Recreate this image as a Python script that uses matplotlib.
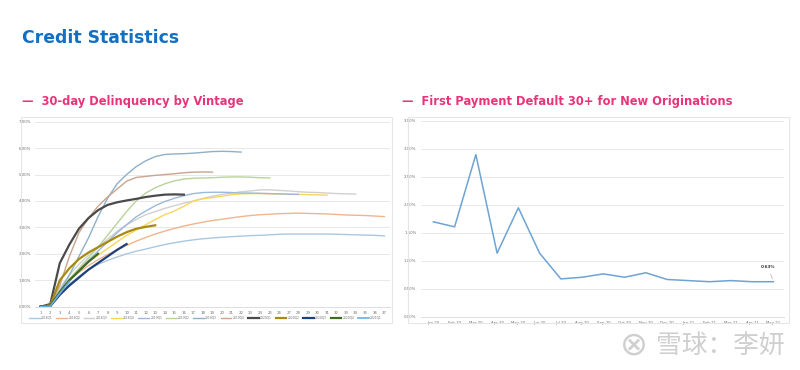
import numpy as np
import matplotlib
matplotlib.use("Agg")
import matplotlib.pyplot as plt
from matplotlib.patches import Rectangle
from matplotlib.ticker import FuncFormatter

# --- data: 30-day delinquency by vintage (month on book -> cumulative %)
vintages = ["2018Q1", "2018Q2", "2018Q3", "2018Q4", "2019Q1", "2019Q2", "2019Q3",
            "2019Q4", "2020Q1", "2020Q2", "2020Q3", "2020Q4", "2021Q1"]
vintage_colors = ["#a9c8e0", "#f2b48c", "#d0d0d0", "#f7d75a", "#9db8dc", "#b9d39a",
                  "#8fb0c8", "#c9a48e", "#4a4a4a", "#a88a12", "#1f3f7a", "#3f6a1f", "#6aaee0"]
vintage_widths = [1, 1, 1, 1, 1, 1, 1, 1, 1.6, 1.6, 1.6, 1.6, 1.2]

v_2018q1 = [0, 0.05, 0.45, 0.85, 1.15, 1.4, 1.6, 1.75, 1.88, 2.0, 2.1, 2.18, 2.27, 2.35,
            2.42, 2.48, 2.53, 2.57, 2.6, 2.63, 2.65, 2.67, 2.69, 2.7, 2.72, 2.74, 2.75,
            2.75, 2.75, 2.75, 2.75, 2.74, 2.73, 2.72, 2.71, 2.7, 2.68]
v_2018q2 = [0, 0.05, 0.6, 1.0, 1.3, 1.55, 1.78, 1.97, 2.15, 2.32, 2.48, 2.62, 2.75, 2.86,
            2.96, 3.05, 3.13, 3.2, 3.26, 3.31, 3.36, 3.41, 3.45, 3.48, 3.5, 3.52, 3.53,
            3.54, 3.53, 3.52, 3.51, 3.49, 3.47, 3.46, 3.45, 3.43, 3.41]
v_2018q3 = [0, 0.05, 0.7, 1.2, 1.6, 1.95, 2.25, 2.55, 2.85, 3.1, 3.3, 3.48, 3.6, 3.72,
            3.82, 3.92, 4.0, 4.1, 4.18, 4.25, 4.3, 4.35, 4.38, 4.42, 4.42, 4.4, 4.38,
            4.35, 4.33, 4.32, 4.3, 4.28, 4.27, 4.26]
v_2018q4 = [0, 0.05, 0.6, 1.05, 1.4, 1.7, 1.95, 2.2, 2.45, 2.7, 2.9, 3.1, 3.3, 3.48,
            3.62, 3.8, 4.0, 4.08, 4.13, 4.18, 4.24, 4.27, 4.28, 4.28, 4.27, 4.26, 4.25,
            4.25, 4.24, 4.23, 4.22]
v_2019q1 = [0, 0.05, 0.55, 1.0, 1.4, 1.75, 2.1, 2.45, 2.8, 3.1, 3.4, 3.62, 3.82, 3.98,
            4.1, 4.2, 4.28, 4.32, 4.33, 4.33, 4.32, 4.3, 4.3, 4.29, 4.28, 4.27, 4.26, 4.25]
v_2019q2 = [0, 0.05, 0.6, 1.05, 1.45, 1.85, 2.25, 2.7, 3.15, 3.6, 4.0, 4.3, 4.5, 4.65,
            4.76, 4.83, 4.86, 4.87, 4.88, 4.9, 4.91, 4.91, 4.9, 4.88, 4.87]
v_2019q3 = [0, 0.05, 0.6, 1.2, 1.9, 2.6, 3.4, 4.1, 4.65, 5.0, 5.3, 5.52, 5.68, 5.76,
            5.78, 5.79, 5.81, 5.84, 5.87, 5.88, 5.87, 5.85]
v_2019q4 = [0, 0.08, 0.8, 1.9, 2.8, 3.35, 3.8, 4.15, 4.45, 4.75, 4.89, 4.93, 4.97, 5.0,
            5.03, 5.07, 5.09, 5.1, 5.09]
v_2020q1 = [0, 0.1, 1.65, 2.35, 2.95, 3.35, 3.65, 3.85, 3.95, 4.02, 4.08, 4.15, 4.2,
            4.24, 4.25, 4.24]
v_2020q2 = [0, 0.05, 1.0, 1.45, 1.8, 2.05, 2.25, 2.45, 2.65, 2.82, 2.95, 3.02, 3.08]
v_2020q3 = [0, 0.02, 0.45, 0.8, 1.1, 1.4, 1.65, 1.9, 2.15, 2.37]
v_2020q4 = [0, 0.03, 0.55, 1.0, 1.35, 1.7, 2.0]
v_2021q1 = [0, 0.02, 0.5, 0.95]
vintage_data = [v_2018q1, v_2018q2, v_2018q3, v_2018q4, v_2019q1, v_2019q2, v_2019q3,
                v_2019q4, v_2020q1, v_2020q2, v_2020q3, v_2020q4, v_2021q1]

# --- data: first payment default 30+
fpd_months = ["Jan 20", "Feb 20", "Mar 20", "Apr 20", "May 20", "Jun 20", "Jul 20",
              "Aug 20", "Sep 20", "Oct 20", "Nov 20", "Dec 20", "Jan 21", "Feb 21",
              "Mar 21", "Apr 21", "May 21"]
fpd_values = [1.70, 1.61, 2.90, 1.14, 1.95, 1.14, 0.68, 0.71, 0.77, 0.71, 0.79, 0.67,
              0.65, 0.63, 0.65, 0.63, 0.63]

pct = FuncFormatter(lambda v, p: f"{v:.2f}%")
tick_col = "#707070"
grid_col = "#e4e4e4"

fig = plt.figure(figsize=(8, 3.7), dpi=100, facecolor="white")

fig.text(22 / 800, 1 - 38 / 370, "Credit Statistics", color="#1170c4", fontsize=12.4,
         fontweight="bold", va="center", ha="left")
fig.text(22 / 800, 1 - 101 / 370, "\u2014  30-day Delinquency by Vintage", color="#e8347b",
         fontsize=8.3, fontweight="bold", va="center", ha="left")
fig.text(402 / 800, 1 - 101 / 370, "\u2014  First Payment Default 30+ for New Originations",
         color="#e8347b", fontsize=8.3, fontweight="bold", va="center", ha="left")

# panel frames
for x0, x1 in [(21, 392), (408, 789)]:
    fig.patches.append(Rectangle((x0 / 800, 1 - 323 / 370), (x1 - x0) / 800, 206 / 370,
                                 transform=fig.transFigure, fill=False,
                                 edgecolor="#e6e6e6", linewidth=0.8))

# left chart
ax1 = fig.add_axes([35 / 800, 1 - 306.7 / 370, 355 / 800, 185 / 370])
for name, vals, col, lw in zip(vintages, vintage_data, vintage_colors, vintage_widths):
    ax1.plot(np.arange(1, len(vals) + 1), vals, color=col, linewidth=lw, label=name)
ax1.set_xlim(0.4, 37.6)
ax1.set_ylim(0, 7)
ax1.set_xticks(range(1, 38))
ax1.set_yticks(np.arange(0, 7.01, 1))
ax1.yaxis.set_major_formatter(pct)
ax1.grid(axis="y", color=grid_col, linewidth=0.6)
ax1.set_axisbelow(True)
for s in ["top", "right", "left"]:
    ax1.spines[s].set_visible(False)
ax1.spines["bottom"].set_color("#d8d8d8")
ax1.spines["bottom"].set_linewidth(0.6)
ax1.tick_params(length=0, labelsize=2.8, colors=tick_col, pad=3)
ax1.legend(loc="upper center", bbox_to_anchor=(0.48, -0.035), ncol=13, frameon=False,
           fontsize=2.2, handlelength=3.5, columnspacing=1.2, handletextpad=0.4,
           labelcolor=tick_col)

# right chart
ax2 = fig.add_axes([420.6 / 800, 1 - 317 / 370, 363.4 / 800, 196 / 370])
x2 = np.arange(len(fpd_months))
ax2.plot(x2, fpd_values, color="#6ea3d4", linewidth=1.1)
ax2.set_xlim(-0.6, 16.5)
ax2.set_ylim(0, 3.5)
ax2.set_xticks(x2)
ax2.set_xticklabels(fpd_months)
ax2.set_yticks(np.arange(0, 3.51, 0.5))
ax2.yaxis.set_major_formatter(pct)
ax2.grid(axis="y", color=grid_col, linewidth=0.6)
ax2.set_axisbelow(True)
for s in ["top", "right", "left"]:
    ax2.spines[s].set_visible(False)
ax2.spines["bottom"].set_color("#d8d8d8")
ax2.spines["bottom"].set_linewidth(0.6)
ax2.tick_params(length=0, labelsize=2.8, colors=tick_col, pad=3)
ax2.annotate(f"{fpd_values[-1]:.2f}%", xy=(x2[-1], fpd_values[-1]),
             xytext=(x2[-1] - 0.25, fpd_values[-1] + 0.23), fontsize=3, fontweight="bold",
             ha="center", va="bottom", color="#333333",
             arrowprops=dict(arrowstyle="-", color="#999999", linewidth=0.4))

# watermark
fig.text(656 / 800, 1 - 346 / 370, "雪球：李妍", family=["Noto Sans CJK SC", "DejaVu Sans"],
         fontsize=18.5, color="#cfcfcf", va="center", ha="left")
fig.text(634 / 800, 1 - 345 / 370, "\u2297", fontsize=24, color="#cfcfcf",
         va="center", ha="center")

fig.savefig("out.png", dpi=100, facecolor="white")
